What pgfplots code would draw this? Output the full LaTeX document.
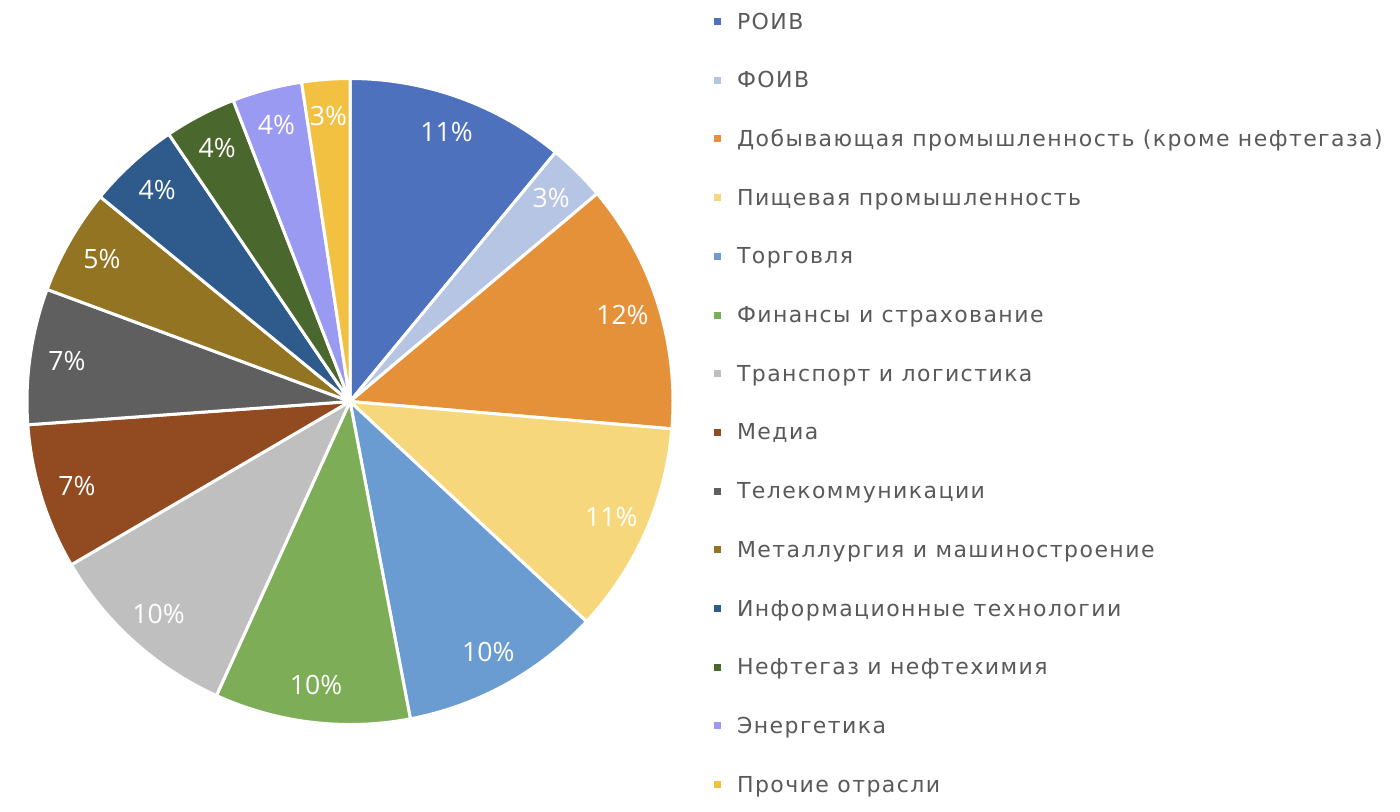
\documentclass[border=0pt]{standalone}
\usepackage{pgfplots}
\pgfplotsset{compat=1.18}
\usepackage{pgfplotstable}
\usepackage{fontspec}
\setmainfont{Open Sans}
\newfontfamily\legfont[LetterSpace=6.5]{DejaVu Sans}
\definecolor{c1}{HTML}{4E71BE}
\definecolor{c2}{HTML}{B6C5E3}
\definecolor{c3}{HTML}{E59139}
\definecolor{c4}{HTML}{F6D77B}
\definecolor{c5}{HTML}{6A9BD1}
\definecolor{c6}{HTML}{7EAD57}
\definecolor{c7}{HTML}{BFBFBF}
\definecolor{c8}{HTML}{924B20}
\definecolor{c9}{HTML}{5F5F5F}
\definecolor{c10}{HTML}{927422}
\definecolor{c11}{HTML}{2E5B8C}
\definecolor{c12}{HTML}{4A672E}
\definecolor{c13}{HTML}{9A9AF2}
\definecolor{c14}{HTML}{F3C142}
\definecolor{legtext}{HTML}{595959}

\pgfplotstableread[col sep=comma]{
value,pct,col,name
11.0,11,c1,РОИВ
2.9,3,c2,ФОИВ
12.5,12,c3,Добывающая промышленность (кроме нефтегаза)
10.6,11,c4,Пищевая промышленность
10.1,10,c5,Торговля
9.8,10,c6,Финансы и страхование
9.8,10,c7,Транспорт и логистика
7.3,7,c8,Медиа
6.8,7,c9,Телекоммуникации
5.3,5,c10,Металлургия и машиностроение
4.6,4,c11,Информационные технологии
3.6,4,c12,Нефтегаз и нефтехимия
3.5,4,c13,Энергетика
2.4,3,c14,Прочие отрасли
}\piedata

\begin{document}
\begin{tikzpicture}
\useasboundingbox (0,0) rectangle (700pt,405.5pt);
\begin{axis}[
  at={(175pt,204.75pt)}, anchor=center,
  width=323pt, height=323pt, scale only axis,
  xmin=-1, xmax=1, ymin=-1, ymax=1,
  hide axis, clip=false,
  legend cell align=left,
  legend style={
    at={(1.0635,1.1014)}, anchor=north west,
    draw=none, fill=none, inner sep=0pt, outer sep=0pt,
    font=\legfont\fontsize{11}{13}\selectfont, text=legtext,
    row sep=20.85pt,
    nodes={inner sep=0pt, text height=8pt, text depth=0.5pt},
    /tikz/every odd column/.style={column sep=8pt},
  },
  legend image code/.code={\fill[#1,draw=none] (0pt,-1.75pt) rectangle (3.5pt,1.75pt);},
]
\pgfplotstablegetrowsof{\piedata}
\pgfmathtruncatemacro\N{\pgfplotsretval-1}
\def\total{0}
\pgfplotsforeachungrouped \i in {0,...,\N}{%
  \pgfplotstablegetelem{\i}{value}\of\piedata
  \pgfmathsetmacro\total{\total+\pgfplotsretval}%
}
\def\cum{0}
\pgfplotsforeachungrouped \i in {0,...,\N}{%
  \pgfplotstablegetelem{\i}{value}\of\piedata
  \let\v\pgfplotsretval
  \pgfplotstablegetelem{\i}{col}\of\piedata
  \let\c\pgfplotsretval
  \pgfplotstablegetelem{\i}{name}\of\piedata
  \let\nm\pgfplotsretval
  \pgfmathsetmacro\a{90-\cum/\total*360}%
  \pgfmathsetmacro\cum{\cum+\v}%
  \pgfmathsetmacro\b{90-\cum/\total*360}%
  \edef\temp{\noexpand\addplot[fill=\c, draw=white, line width=1.5pt, line join=round, domain=\b:\a, samples=90] ({cos(x)},{sin(x)}) -- (axis cs:0,0) -- cycle;
    \noexpand\addlegendentry{\unexpanded\expandafter{\nm}}}%
  \temp
}
\def\cum{0}
\pgfplotsforeachungrouped \i in {0,...,\N}{%
  \pgfplotstablegetelem{\i}{value}\of\piedata
  \let\v\pgfplotsretval
  \pgfplotstablegetelem{\i}{pct}\of\piedata
  \let\p\pgfplotsretval
  \pgfmathsetmacro\m{90-(\cum+\v/2)/\total*360}%
  \pgfmathsetmacro\cum{\cum+\v}%
  \pgfmathsetmacro\lx{0.885*cos(\m)}%
  \pgfmathsetmacro\ly{0.885*sin(\m)}%
  \edef\temp{\noexpand\node[text=white, inner sep=0pt, font=\noexpand\fontsize{13.3}{15}\noexpand\selectfont] at (axis cs:\lx,\ly) {\p\noexpand\%};}%
  \temp
}
\end{axis}
\end{tikzpicture}
\end{document}
